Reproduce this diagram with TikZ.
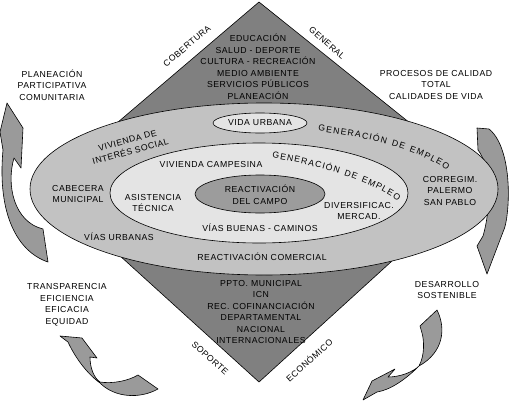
\documentclass[tikz,border=0pt]{standalone}
\usepackage{fontspec}
\usetikzlibrary{decorations.text}
\newfontfamily\lbf[LetterSpace=6]{Liberation Sans}
\newcommand\lbfont{\lbf\fontsize{8.7}{11.5}\selectfont}
\definecolor{diamondgray}{HTML}{808080}
\definecolor{outergray}{HTML}{C2C2C2}
\definecolor{middlegray}{HTML}{E4E4E4}
\definecolor{innergray}{HTML}{9C9C9C}
\definecolor{arrowgray}{HTML}{9A9A9A}
\begin{document}
\begin{tikzpicture}[x=1pt,y=-1pt,line width=0.5pt,
  lbl/.style={font=\lbfont,align=center,inner sep=0pt},
  ribbon/.style={fill=arrowgray,draw=black,line width=0.6pt,line join=round},
  ring/.style={draw=black,line width=0.6pt}]
\useasboundingbox (0,0) rectangle (510,401);
\fill[white] (0,0) rectangle (510,401);
% curved arrows
\draw[ribbon] (7,103) -- (23,128) -- (21,168) -- (14,158)
  .. controls (6,185) and (14,222) .. (43,229) -- (48,262)
  .. controls (18,252) and (-3,215) .. (3,150) -- (0,132) -- cycle;
\draw[ribbon] (477,128) -- (489,129)
  .. controls (503,140) and (510,170) .. (508,205)
  .. controls (507,220) and (505,228) .. (503,232) -- (487,274) -- (477,246) -- (483,236)
  .. controls (492,205) and (490,165) .. (478,150) -- cycle;
\draw[ribbon] (60,336) -- (82,338) -- (97,358) -- (90,357)
  .. controls (90,368) and (94,378) .. (100,382)
  .. controls (112,384) and (128,381) .. (138,375) -- (158,389)
  .. controls (140,399) and (115,398) .. (100,383)
  .. controls (85,372) and (74,355) .. (68,342) -- cycle;
\draw[ribbon] (437,310) .. controls (446,328) and (444,352) .. (419,366)
  .. controls (405,380) and (390,390) .. (377,392) -- (363,400) -- (372,381) -- (395,369) -- (388,377)
  .. controls (400,377) and (413,372) .. (419,366)
  .. controls (425,355) and (424,340) .. (422,333) -- (420,326) -- cycle;
% diamond
\draw[ring,fill=diamondgray] (259,2) -- (481,180) -- (259,382) -- (43,186) -- cycle;
% ellipses
\draw[ring,fill=outergray] (264,189) ellipse [x radius=234, y radius=86];
\draw[ring,fill=middlegray] (260,123) ellipse [x radius=47, y radius=10];
\draw[ring,fill=middlegray] (259,193) ellipse [x radius=149, y radius=50];
\draw[ring,fill=innergray] (260,194) ellipse [x radius=65, y radius=19];
% diamond texts
\node[lbl] (top) at (258,67) {EDUCACIÓN\\SALUD - DEPORTE\\CULTURA - RECREACIÓN\\MEDIO AMBIENTE\\SERVICIOS PÚBLICOS\\PLANEACIÓN};
\node[lbl] (bot) at (261,312) {PPTO. MUNICIPAL\\ICN\\REC. COFINANCIACIÓN\\DEPARTAMENTAL\\NACIONAL\\INTERNACIONALES};
\node[lbl,rotate=40] (cob) at (187,46) {COBERTURA};
\node[lbl,rotate=-42] (gen) at (327,43) {GENERAL};
\node[lbl,rotate=-42] (sop) at (210,358) {SOPORTE};
\node[lbl,rotate=42] (eco) at (309,360) {ECONÓMICO};
% outer ring
\node[lbl] (vida) at (260,123) {VIDA URBANA};
\node[lbl,rotate=15] (viv) at (129,146) {VIVIENDA DE\\INTERÉS SOCIAL};
\path[decorate,decoration={text along path,text={|\lbfont|GENERACIÓN DE EMPLEO},text align={fit to path}}]
  (318,131) .. controls (365,137) and (415,148) .. (447,170);
\node[lbl] (cab) at (78,194) {CABECERA\\MUNICIPAL};
\node[lbl] (corr) at (450,191) {CORREGIM.\\PALERMO\\SAN PABLO};
\node[lbl] (vurb) at (119,237) {VÍAS URBANAS};
\node[lbl] (rcom) at (262,257) {REACTIVACIÓN COMERCIAL};
% middle ring
\node[lbl] (vcamp) at (211,165) {VIVIENDA CAMPESINA};
\path[decorate,decoration={text along path,text={|\lbfont|GENERACIÓN DE EMPLEO},text align={fit to path}}]
  (272,158) .. controls (315,165) and (365,178) .. (398,201);
\node[lbl] (asis) at (153,203) {ASISTENCIA\\TÉCNICA};
\node[lbl] (div) at (359,211) {DIVERSIFICAC.\\MERCAD.};
\node[lbl] (vias) at (260,228) {VÍAS BUENAS - CAMINOS};
\node[lbl] (react) at (260,195) {REACTIVACIÓN\\DEL CAMPO};
% outside labels
\node[lbl] (plan) at (52,85) {PLANEACIÓN\\PARTICIPATIVA\\COMUNITARIA};
\node[lbl] (proc) at (436,85) {PROCESOS DE CALIDAD\\TOTAL\\CALIDADES DE VIDA};
\node[lbl] (trans) at (67,305) {TRANSPARENCIA\\EFICIENCIA\\EFICACIA\\EQUIDAD};
\node[lbl] (des) at (447,290) {DESARROLLO\\SOSTENIBLE};
\end{tikzpicture}
\end{document}
